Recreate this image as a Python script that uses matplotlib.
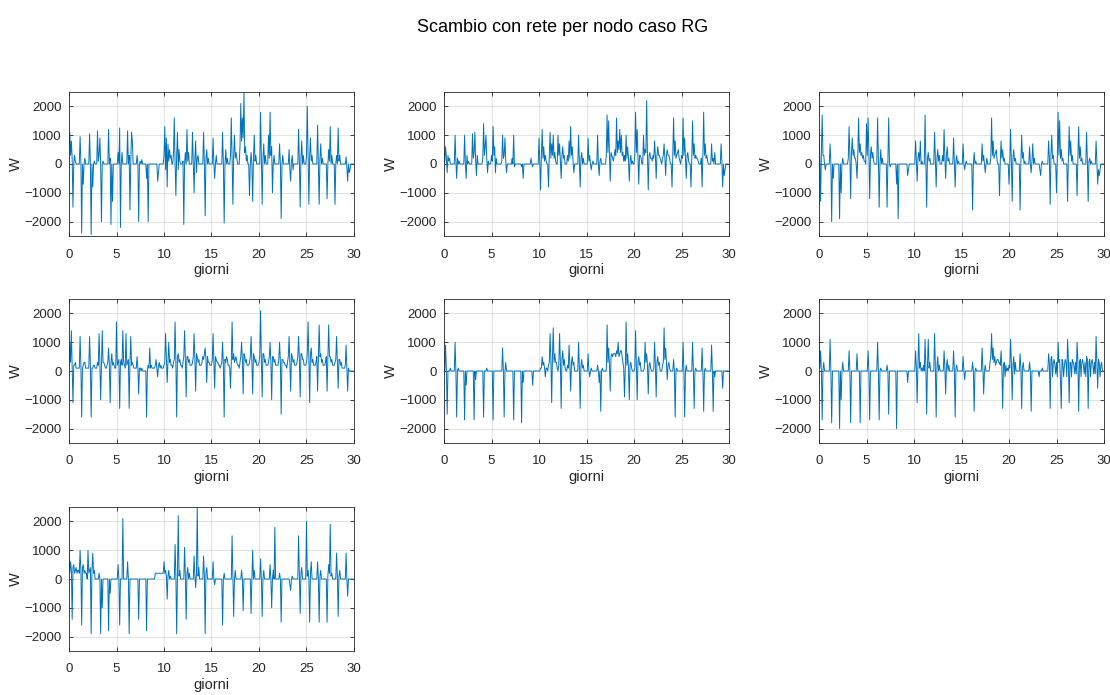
import numpy as np
import matplotlib
matplotlib.use("Agg")
import matplotlib.pyplot as plt

plt.rcParams['font.family'] = ['Liberation Sans', 'DejaVu Sans']

title = "Scambio con rete per nodo caso RG"
xlabel = "giorni"
ylabel = "W"
xticks = [0, 5, 10, 15, 20, 25, 30]
yticks = [-2000, -1000, 0, 1000, 2000]
samples_per_day = 12  # values read at 2-hour steps, one row per day

node1 = [
    [600, 1100, 300, 800, 200, -1500, 0, 300, 100, 0, 0, 0],
    [0, 0, 950, 100, -2400, 0, -700, 0, 200, 0, 0, 0],
    [0, 0, 1050, 0, -2450, 0, -800, 0, 100, 0, 0, 0],
    [1150, 100, 300, 900, 0, -2000, 0, 100, 0, 0, 0, 0],
    [0, 0, 1200, 0, 200, -2100, 0, -1300, 0, 0, 0, 0],
    [0, 0, 400, 0, 1250, -2200, 0, 400, 0, 0, 0, 0],
    [0, 0, 1150, 0, 300, -1600, 0, 1100, 800, 0, 0, 0],
    [0, 0, 300, 0, -2000, 0, 100, 0, 150, 0, 0, 0],
    [0, 0, -500, 0, -2000, 0, 0, 0, 0, 0, 0, 0],
    [0, 0, 0, 0, -600, -300, 0, 0, 0, 0, 0, 0],
    [300, 1300, -200, 900, -800, 700, 100, 500, 200, 300, 0, 0],
    [400, 1600, 0, -1100, 300, 1100, -200, 500, 100, 0, 0, 0],
    [100, -2100, 0, 400, 0, 1200, 100, 400, 0, 0, 0, 0],
    [1100, 0, -1000, 200, 800, -300, 200, 300, 0, 0, 0, 0],
    [0, 0, 1100, 0, -1800, 200, 500, 0, 200, 0, 0, 0],
    [0, 0, 900, 0, -500, 0, 300, 0, 0, 0, 0, 0],
    [0, 0, 1100, 0, -2050, 0, 500, 0, 200, 0, 0, 0],
    [300, 1600, 200, -1400, 300, 1000, 200, 400, 200, 0, 0, 0],
    [600, 2100, 800, 1600, 900, 2500, 400, 600, 100, 300, 0, 0],
    [-1100, 0, 400, 0, -1300, 200, 1000, 100, 300, 0, 0, 0],
    [0, 0, 1800, 100, -1400, 200, 700, 0, 300, 0, 0, 0],
    [1000, 200, 1800, 300, 600, -1000, 0, 300, 0, 0, 0, 0],
    [0, 0, 700, 0, -1900, 0, 300, 0, 0, 0, 0, 0],
    [0, 0, 500, -200, -600, 100, 300, -200, 0, 0, 0, 0],
    [0, 0, 1200, 100, -1500, 200, 800, 0, 300, 0, 0, 0],
    [300, 2000, 200, -1400, 300, 900, 100, 300, 0, 0, 0, 0],
    [0, 0, 1350, 0, -1400, 200, 700, 0, 200, 0, 0, 0],
    [0, 0, -1200, 0, 500, 100, 1300, 0, 300, 0, 0, 0],
    [-1400, 0, 300, 0, 1250, 100, 300, 0, 0, 0, 0, 0],
    [0, 0, 250, -100, -600, 0, -300, -200, 0, 0, 0, 0],
]
node2 = [
    [400, 100, 600, 200, -300, 300, 100, 200, 0, 0, 0, 0],
    [0, 0, 1000, 100, -500, 200, 0, 100, 0, 0, 0, 0],
    [0, 0, 1000, 0, -500, 300, 0, 100, 0, 0, 0, 0],
    [1050, 200, 400, 1100, 100, -400, 300, 0, 0, 0, 0, 0],
    [0, 200, 1400, 300, 600, 1000, 200, -300, 100, 0, 0, 0],
    [300, 100, 1300, 300, 600, -300, 200, 0, 0, 0, 0, 0],
    [0, 100, 1000, 200, 300, 900, 100, -300, 0, 0, 0, 0],
    [0, 0, 200, 0, 1000, -100, 0, 0, 0, 0, 0, 0],
    [0, 0, -100, 0, -500, 0, 0, 0, 0, 0, 0, 0],
    [0, 0, 200, 0, -100, 0, 0, 0, 0, 0, 0, 0],
    [900, 100, -900, 300, 1200, 200, 600, 100, 300, 100, 0, 0],
    [-800, 300, 1100, 200, 700, 300, 1000, 200, 400, 100, 0, 0],
    [1000, 300, 700, 100, -500, 300, 600, 200, 300, 0, 0, 0],
    [300, 100, 800, 200, 1300, 300, 600, 100, -300, 0, 0, 0],
    [0, 0, 1000, 100, -800, 200, 400, 0, 200, 0, 0, 0],
    [0, 0, 900, 100, 300, 0, -200, 0, 100, 0, 0, 0],
    [0, 0, 1000, 0, -400, 100, 200, 0, 0, 0, 0, 0],
    [0, 300, 1700, 400, 1500, 300, -600, 400, 300, 200, 100, 300],
    [500, 300, 1600, 400, 800, 500, 1200, 400, 1000, 300, 400, 100],
    [300, 100, 1000, 200, 600, 200, -600, 100, 300, 0, 100, 0],
    [0, 300, 1800, 400, 1200, 200, -700, 300, 300, 200, 0, 0],
    [1000, 300, 500, 400, 2200, 300, -900, 300, 400, 200, 200, 100],
    [300, 200, 800, 300, -500, 300, 600, 300, 300, 200, 100, 0],
    [200, 300, 700, 200, -400, 300, 500, 300, 300, 200, 0, 0],
    [-800, 300, 1600, 300, 800, 200, 300, 400, 500, 200, 100, 0],
    [300, 200, 1600, 300, 900, 200, -500, 300, 400, 100, 0, 0],
    [-800, 200, 1500, 300, 700, 200, 300, 200, 200, 100, 0, 0],
    [0, 200, -800, 300, 1800, 300, 700, 200, 300, 100, 0, 0],
    [0, 0, 700, 100, 200, 0, 400, 0, 0, 0, 0, 0],
    [0, 0, 700, 100, -800, 0, -400, -200, 0, 0, 0, 0],
]
node3 = [
    [1300, 200, -1300, 400, 1700, 300, 300, 0, -200, 0, 0, 0],
    [0, 0, 700, 0, -2000, 0, -500, 0, 0, 0, 0, 0],
    [0, 0, -1900, 0, -1000, 0, 200, 0, 0, 0, 0, 0],
    [0, 200, 1300, 300, -1200, 400, 900, 300, 500, 200, 200, 0],
    [-500, 300, 1600, 400, 700, 300, 400, 200, 300, 100, 100, 0],
    [1400, 300, 1600, 400, -1200, 300, 600, 200, 400, 100, 0, 0],
    [0, 0, 1600, 200, -1500, 0, 500, 0, 200, 0, 0, 0],
    [0, 0, -1500, 0, 1600, 0, -100, 0, 0, 0, 0, 0],
    [0, 0, -700, 0, -1900, 0, 0, 0, 0, 0, 0, 0],
    [0, 0, 0, 0, -400, -200, 0, 0, 0, 0, 0, 0],
    [0, 0, 800, 100, -600, 200, 400, 100, 800, 0, 100, 0],
    [0, 0, 1700, 200, -1500, 200, 400, 100, 200, 0, 0, 0],
    [0, 0, 1100, 200, -800, 200, 500, 100, 300, 0, 0, 0],
    [300, 100, 1200, 200, -500, 300, 600, 100, 200, 0, 0, 0],
    [0, 0, 900, 100, -800, 100, 300, 0, 100, 0, 0, 0],
    [0, 0, 700, 0, -200, 0, 100, 0, 0, 0, 0, 0],
    [0, 0, -1600, 0, 400, 0, 100, 0, 0, 0, 0, 0],
    [0, 0, 700, 100, 300, 0, -300, 0, 200, 0, 0, 0],
    [0, 200, 1600, 300, 800, 200, 300, 400, 500, 100, 0, 0],
    [-1100, 100, 800, 200, 500, 100, 200, 0, 0, 0, 0, 0],
    [-700, 0, 1200, 100, -1300, 200, 500, 100, 200, 0, 0, 0],
    [0, 0, -1600, 100, 1000, 200, 400, 0, 100, 0, 0, 0],
    [0, 0, 600, 0, -300, 100, 700, 0, 200, 0, 0, 0],
    [0, 0, 0, -200, -400, 0, 100, 0, 0, 0, 0, 0],
    [0, 0, 800, 200, -1400, 300, 1000, 200, 300, 0, 0, 0],
    [-1000, 200, 1800, 300, 1500, 200, 500, 100, 200, 0, 0, 0],
    [0, 0, -1300, 200, 1300, 300, 800, 100, 300, 0, 0, 0],
    [0, 0, -1100, 200, 1300, 200, 600, 100, 200, 0, 0, 0],
    [0, 0, 1100, 100, -1300, 100, 200, 0, 100, 0, 0, 0],
    [0, 0, 800, 0, -700, -200, -400, -200, 0, 0, 0, 0],
]
node4 = [
    [200, 1000, 300, 1400, 100, -1100, 200, 200, 300, 100, 100, 100],
    [100, 100, 1200, 200, -1600, 100, 200, 300, 300, 100, 100, 100],
    [100, 100, 1200, 200, -1600, 100, 100, 200, 200, 100, 100, 100],
    [300, 200, 1300, 300, -1000, 200, 1400, 300, 300, 200, 100, 100],
    [200, 300, 800, 200, -1100, 300, 600, 200, 300, 200, 100, 100],
    [1700, 200, 300, 400, -1300, 300, 400, 200, 1400, 300, 200, 100],
    [1300, 200, 300, 400, -1300, 300, 1200, 200, 300, 200, 100, 100],
    [100, 100, 500, 100, -800, 100, 100, 0, 100, 0, 0, 0],
    [0, 0, -1600, 0, 200, 100, 800, 100, 200, 100, 100, 100],
    [100, 200, 400, 100, -200, 200, 300, 100, 200, 100, 100, 100],
    [200, 300, 1300, 400, -400, 300, 1000, 300, 400, 200, 200, 100],
    [300, 400, 1700, 300, -1600, 500, 600, 300, 400, 200, 200, 100],
    [300, 500, 1400, 400, -900, 500, 500, 300, 400, 200, 200, 200],
    [300, 500, 1300, 400, -700, 600, 500, 300, 400, 200, 200, 200],
    [300, 500, 400, 600, 800, 400, -400, 500, 300, 300, 200, 200],
    [200, 400, 1300, 300, -600, 500, 400, 300, 300, 200, 200, 100],
    [200, 300, 1000, 200, -1600, 400, 300, 500, 400, 200, 200, 100],
    [-600, 300, 1700, 400, 600, 300, 400, 500, 300, 200, 200, 100],
    [300, 500, 1000, 400, -800, 600, 500, 300, 400, 200, 200, 200],
    [300, 500, 1200, 300, -800, 600, 500, 300, 400, 200, 200, 200],
    [300, 500, 2100, 400, -900, 600, 600, 300, 400, 200, 200, 200],
    [300, 500, 1000, 300, -1000, 500, 500, 300, 400, 200, 200, 200],
    [200, 400, 1000, 300, -1500, 400, 400, 300, 300, 200, 200, 100],
    [300, 500, 1200, 300, -700, 600, 500, 300, 400, 200, 200, 200],
    [300, 500, 1200, 400, -900, 600, 600, 400, 400, 200, 200, 200],
    [300, 600, 1700, 400, -1100, 600, 800, 300, 400, 200, 200, 200],
    [300, 500, -700, 400, 1600, 500, 600, 300, 400, 200, 200, 200],
    [300, 500, -700, 400, 1600, 500, 500, 300, 400, 200, 200, 200],
    [300, 400, 1200, 300, -600, 400, 400, 200, 300, 100, 100, 100],
    [100, 200, 900, 100, -700, 100, 0, 0, 0, 0, 0, 0],
]
node5 = [
    [0, 0, 900, 0, -1500, 0, 0, 0, 100, 0, 0, 0],
    [0, 0, 1000, 0, -1600, 0, 100, 0, 0, 0, 0, 0],
    [0, 0, -1700, 0, -500, 0, 0, 0, 0, 0, 0, 0],
    [0, 0, -1700, 0, -300, 0, 0, 0, 0, 0, 0, 0],
    [0, 0, -1600, 0, 0, 0, 100, 0, 0, 0, 0, 0],
    [0, 0, -1700, 0, 0, 0, 0, 0, 0, 0, 0, 0],
    [0, 0, 800, 0, -1600, 0, 300, 0, 0, 0, 0, 0],
    [0, 0, 0, 0, -1700, 0, 0, 0, 0, 0, 0, 0],
    [0, 0, -1800, 0, -400, 0, 0, 0, 0, 0, 0, 0],
    [0, 0, 0, 0, -500, 0, 0, 0, 0, 0, 0, 0],
    [0, 0, 100, 100, 500, 200, 300, 100, -200, 100, 100, 0],
    [200, 300, 1300, 400, -1100, 500, 1500, 300, 600, 300, 300, 100],
    [0, 200, 1300, 300, -1300, 400, 700, 200, 400, 100, 0, 0],
    [200, 100, 900, 200, -700, 300, 500, 200, 300, 0, 0, 0],
    [0, 0, 1000, 100, -1300, 200, 400, 100, 200, 0, 0, 0],
    [0, 0, 600, 0, -200, 0, 100, 0, 0, 0, 0, 0],
    [0, 0, 200, 0, -400, 0, -1400, 0, 100, 0, 0, 0],
    [0, 0, 1600, 300, 800, 200, -700, 500, 600, 500, 600, 600],
    [600, 500, 700, 600, 1000, 500, 600, 700, 700, 500, 300, 100],
    [-900, 100, 1700, 200, 600, 100, -1000, 200, 300, 100, 0, 0],
    [0, 100, 1400, 200, -1000, 300, 500, 200, 300, 0, 0, 0],
    [0, 100, 1000, 300, 600, 200, -800, 200, 300, 100, 0, 0],
    [0, 100, 1000, 200, -900, 300, 500, 200, 300, 0, 0, 0],
    [200, 300, 1500, 400, 800, 300, -300, 200, 300, 100, 0, 0],
    [0, 0, 400, 0, -1600, 0, 100, 0, 0, 0, 0, 0],
    [0, 0, 1000, 0, -1600, 0, 200, 0, 0, 0, 0, 0],
    [0, 0, 1000, 0, -1300, 0, 100, 0, 0, 0, 0, 0],
    [0, 0, 800, 0, -1400, 0, 100, 0, 0, 0, 0, 0],
    [0, 0, 900, 0, -1400, 0, -200, 0, 0, 0, 0, 0],
    [0, 0, 0, 0, -600, 0, 0, 0, 0, 0, 0, 0],
]
node6 = [
    [1200, 100, 700, 0, -1700, 0, 300, 0, 0, 0, 0, 0],
    [0, 0, 1100, 0, -1800, 0, 0, 0, 0, 0, 0, 0],
    [0, 0, -2000, 0, -1000, 0, 300, 0, 0, 0, 0, 0],
    [0, 0, 700, 0, -1800, 0, 0, 0, 0, 0, 0, 0],
    [600, 0, 0, 0, -1800, 0, 0, 0, 0, 0, 0, 0],
    [0, 0, 700, 0, -1700, 0, 0, 0, 0, 0, 0, 0],
    [0, 0, 1000, 0, -1700, 0, 100, 0, 0, 0, 0, 0],
    [0, 0, 200, 0, -1500, 0, 0, 0, 0, 0, 0, 0],
    [0, 0, -2000, 0, 0, 0, 0, 0, 0, 0, 0, 0],
    [0, 0, 0, 0, -400, 0, 0, 0, 0, 0, 0, 0],
    [0, 0, 700, 100, -1100, 200, 1300, 100, 300, 0, 100, 0],
    [200, 0, 1100, 100, -1500, 200, 1100, 100, 300, 0, 0, 0],
    [0, 0, 1300, 100, -1600, 200, 500, 0, 200, 0, 0, 0],
    [0, 0, 700, 100, -800, 200, 400, 0, 200, 0, 0, 0],
    [0, 0, 700, 0, -1600, 100, 200, 0, 0, 0, 0, 0],
    [0, 0, 500, 0, -300, 0, 0, 0, 0, 0, 0, 0],
    [0, 0, 300, 0, -1400, 0, 100, 0, 0, 0, 0, 0],
    [0, 0, 800, 100, -800, 0, 200, 0, 0, 0, 0, 0],
    [300, 500, 1300, 400, 800, 300, 500, 200, 300, 400, 400, 300],
    [300, 200, 700, 100, -1300, 200, 300, -200, 200, 0, 100, 0],
    [200, 100, 1100, 300, -1000, 200, 500, -100, 300, 0, 0, 0],
    [0, 0, 600, 100, -1300, 100, 300, 0, 0, 0, 0, 0],
    [0, 0, 300, 0, -1400, 0, 0, 0, 0, 0, 0, 0],
    [0, 0, -200, 0, 0, 0, 100, 0, 0, 0, 0, 0],
    [0, 0, 600, 300, -1300, 400, 500, -200, 300, 400, 200, -100],
    [300, -200, 1000, 300, 400, -300, -1300, 400, 300, -200, 200, 400],
    [300, -200, 1100, 400, -1100, 300, 300, -200, 400, 300, 200, -100],
    [300, -100, 1000, 400, -1400, 300, 400, -200, 300, 400, 200, -100],
    [300, -200, 500, 400, -1300, 300, 400, -200, 300, 400, 200, -100],
    [300, -100, 1200, 300, -600, 400, 300, -200, 200, 300, 0, 0],
]
node7 = [
    [900, 200, 600, 300, -1400, 400, 500, 200, 300, 400, 200, 300],
    [300, 200, 1000, 300, -1600, 400, 500, 200, 300, 200, 200, 0],
    [1000, 200, 300, 400, -1900, 300, 900, 200, 300, 0, 0, 0],
    [0, 0, 200, 0, -1900, 0, -1000, 0, 0, 0, 0, 0],
    [0, 0, -1800, 0, -500, 0, 0, 0, 0, 0, 0, 0],
    [0, 0, 500, 0, -1600, 0, 0, 0, 2100, 0, 0, 0],
    [0, 0, 600, 0, -1900, 0, 0, 0, 0, 0, 0, 0],
    [0, 0, 0, 0, -1400, 0, 0, 0, 0, 0, 0, 0],
    [0, 0, -1800, 0, 0, 0, 0, 0, 0, 0, 0, 0],
    [0, 200, 200, 200, 200, 200, 200, 200, 200, 200, 200, 200],
    [600, 200, 300, 100, -700, 100, 300, 0, 100, 0, 0, 0],
    [0, 0, 1200, 100, -1900, 200, 2200, 100, 300, 0, 0, 0],
    [0, 0, 1100, 100, -1400, 200, 400, 0, 200, 0, 0, 0],
    [0, 0, 800, 100, -300, 200, 2500, 100, 400, 0, 0, 0],
    [0, 0, 800, 100, -1900, 200, 400, 0, 0, 0, 0, 0],
    [0, 0, 600, 0, -200, 0, 0, 0, 0, 0, 0, 0],
    [0, 0, -1600, 0, 200, 0, 0, 0, 0, 0, 0, 0],
    [0, 0, 1500, 0, -1300, 0, 300, 0, 0, 0, 0, 0],
    [0, 0, 300, 0, -1100, 0, 0, 0, 0, 0, 0, 0],
    [0, 0, -1200, 0, 1000, 0, 300, 0, 0, 0, 0, 0],
    [0, 0, 700, 0, -1300, 0, 300, 0, 0, 0, 0, 0],
    [0, 0, 500, 0, -1000, 0, 300, 0, 1800, 0, 0, 0],
    [0, 0, 200, 0, -1500, 0, 0, 0, 0, 0, 0, 0],
    [0, 0, 0, -200, -400, 0, 100, 0, 0, 0, 0, 0],
    [0, 0, 1500, 100, -1200, 200, 400, 0, 0, 0, 0, 0],
    [2000, 100, 300, 0, -1500, 200, 600, 0, 0, 0, 0, 0],
    [0, 0, 600, 0, -1500, 100, 300, 0, 0, 0, 0, 0],
    [0, 0, -1500, 100, 500, 200, 1900, 100, 200, 0, 0, 0],
    [0, 0, 900, 100, -1300, 100, 300, 0, 0, 0, 0, 0],
    [0, 0, 900, 0, -600, 0, 0, 0, 0, 0, 0, 0],
]
nodes = [node1, node2, node3, node4, node5, node6, node7]

W, H = 1110, 695
fig = plt.figure(figsize=(W / 100, H / 100), dpi=100)
fig.text(0.507, 1 - 27 / H, title, ha='center', va='center', fontsize=13, color='black')

lefts = [69, 444, 819]
tops = [92, 299, 507]
aw, ah = 285, 144
line_color = '#0072BD'
axis_color = '#262626'

for i, node in enumerate(nodes):
    r, c = divmod(i, 3)
    ax = fig.add_axes([lefts[c] / W, 1 - (tops[r] + ah) / H, aw / W, ah / H])
    y = np.array(node, dtype=float).ravel()
    t = np.arange(len(y)) / samples_per_day
    ax.plot(t, y, color=line_color, lw=0.7)
    ax.set_xlim(0, 30)
    ax.set_ylim(-2500, 2500)
    ax.set_xticks(xticks)
    ax.set_yticks(yticks)
    ax.grid(True, color='#262626', alpha=0.15, lw=0.6)
    ax.set_axisbelow(True)
    for s in ax.spines.values():
        s.set_color(axis_color)
        s.set_linewidth(0.6)
    ax.tick_params(axis='x', pad=9)
    ax.tick_params(axis='y', pad=5)
    ax.tick_params(direction='in', length=3, width=0.6, colors=axis_color,
                   labelsize=9.5, top=True, right=True)
    ax.set_xlabel(xlabel, fontsize=10.5, color=axis_color, labelpad=2)
    ax.set_ylabel(ylabel, fontsize=10.5, color=axis_color, labelpad=1)

fig.savefig('out.png', dpi=100)
